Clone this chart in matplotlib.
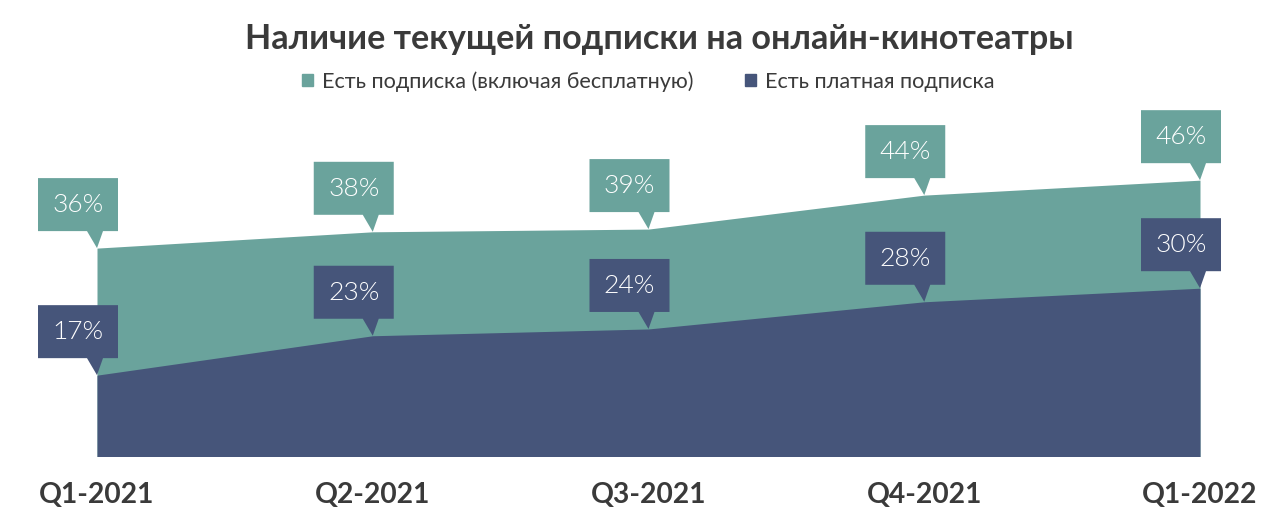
import matplotlib
matplotlib.use("Agg")
import matplotlib.pyplot as plt
import matplotlib.transforms as mtransforms
from matplotlib.patches import Polygon, Patch

# data
quarters = ["Q1-2021", "Q2-2021", "Q3-2021", "Q4-2021", "Q1-2022"]
any_subscription = [36.0, 38.4, 38.8, 43.8, 46.0]
paid_subscription = [17.3, 23.1, 24.1, 28.1, 30.1]
series_names = ["Есть подписка (включая бесплатную)", "Есть платная подписка"]

TEAL = "#6aa39c"
NAVY = "#46557a"
TEXT = "#3a3a3a"

plt.rcParams["font.family"] = ["Lato", "DejaVu Sans"]

fig = plt.figure(figsize=(12.76, 5.17), dpi=100)
ax = fig.add_axes([97 / 1276, 61 / 517, 1103 / 1276, 356 / 517])

x = list(range(len(quarters)))
ax.fill_between(x, 0, any_subscription, color=TEAL, linewidth=0)
ax.fill_between(x, 0, paid_subscription, color=NAVY, linewidth=0)
ax.set_xlim(0, len(quarters) - 1)
ax.set_ylim(5.4, 57.8)

for side in ax.spines.values():
    side.set_visible(False)
ax.set_yticks([])
ax.set_xticks(x)
ax.set_xticklabels(quarters, fontsize=20.3, fontweight="bold", color=TEXT)
ax.tick_params(axis="x", length=0, pad=19)
ax.patch.set_alpha(0)

# callout shape in pixel offsets from the data point (tip at 0,0)
callout = [(-59, 17), (-10, 17), (0, 0), (6, 17), (21, 17), (21, 70), (-59, 70)]


def add_callout(xv, yv, color):
    tr = mtransforms.ScaledTranslation(xv, yv, ax.transData)
    ax.add_patch(Polygon(callout, closed=True, facecolor=color,
                         edgecolor="none", transform=tr, clip_on=False,
                         zorder=5))
    ax.text(-19, 43, f"{round(yv)}%", transform=tr, ha="center",
            va="center", color="white", fontsize=19, fontweight=300,
            zorder=6)


for xv, yv in zip(x, any_subscription):
    add_callout(xv, yv, TEAL)
for xv, yv in zip(x, paid_subscription):
    add_callout(xv, yv, NAVY)

fig.text(0.517, 0.925, "Наличие текущей подписки на онлайн-кинотеатры",
         ha="center", va="center", fontsize=24.6, fontweight="bold",
         color=TEXT)

handles = [Patch(color=TEAL, label=series_names[0]),
           Patch(color=NAVY, label=series_names[1])]
fig.legend(handles=handles, loc="center", bbox_to_anchor=(0.508, 0.842),
           ncol=2, frameon=False, fontsize=15.6, handlelength=0.5,
           handleheight=0.5, handletextpad=0.4, columnspacing=2.4,
           labelcolor=TEXT)

fig.savefig("out.png", dpi=100, facecolor="white")
